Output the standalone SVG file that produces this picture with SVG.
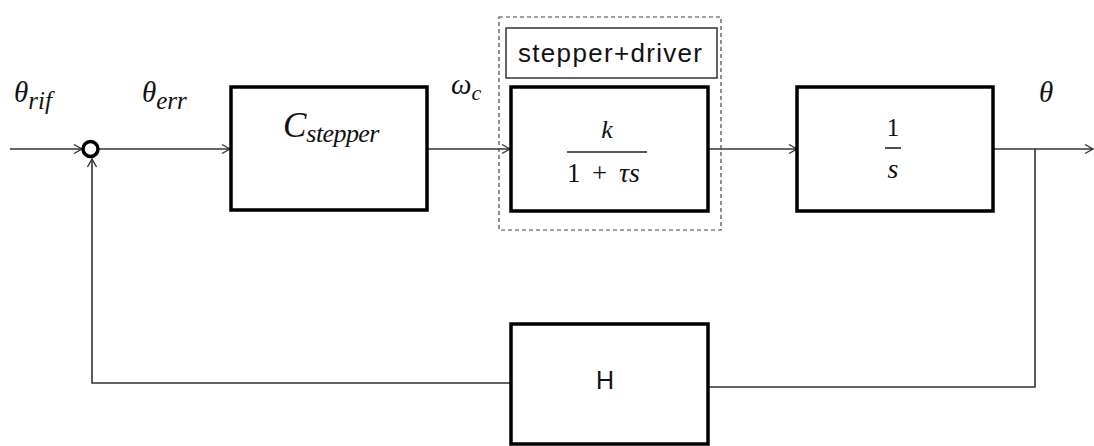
<svg xmlns="http://www.w3.org/2000/svg" width="1094" height="446" viewBox="0 0 1094 446">
<defs>
<marker id="arr" markerUnits="userSpaceOnUse" markerWidth="12" markerHeight="12" refX="10" refY="6" orient="auto">
<path d="M2,1.5 L10,6 L2,10.5" fill="none" stroke="#333" stroke-width="1.4"/>
</marker>
</defs>
<style>
.blk{fill:#fff;stroke:#000;stroke-width:3.5}
.ln{fill:none;stroke:#333;stroke-width:1.6}
.m{font-family:"Liberation Serif",serif;font-style:italic;fill:#111}
.r{font-family:"Liberation Serif",serif;fill:#111}
.s{font-family:"Liberation Sans",sans-serif;fill:#111}
</style>
<rect width="1094" height="446" fill="#fff"/>
<g id="connectors">
<line class="ln" x1="10" y1="149" x2="82" y2="149" marker-end="url(#arr)"/>
<line class="ln" x1="99" y1="149" x2="230" y2="149" marker-end="url(#arr)"/>
<line class="ln" x1="427" y1="149" x2="510" y2="149" marker-end="url(#arr)"/>
<line class="ln" x1="708" y1="149" x2="797" y2="149" marker-end="url(#arr)"/>
<line class="ln" x1="993" y1="149" x2="1093" y2="149" marker-end="url(#arr)"/>
<polyline class="ln" points="1035,149 1035,387 708,387"/>
<polyline class="ln" points="512,383 92,383 92,159" marker-end="url(#arr)"/>
</g>
<g id="sum">
<circle cx="90.5" cy="149" r="7.5" fill="#fff" stroke="#000" stroke-width="3.5"/>
</g>
<g id="labels">
<text class="m" x="14" y="102" font-size="29">θ<tspan font-size="25" dy="7">rif</tspan></text>
<text class="m" x="142" y="102" font-size="29">θ<tspan font-size="25" dy="7">err</tspan></text>
<text class="m" x="451" y="94" font-size="29">ω<tspan font-size="22" dy="6">c</tspan></text>
<text class="m" x="1039" y="102" font-size="29">θ</text>
</g>
<g id="subsystem">
<rect x="499" y="17" width="222" height="213" fill="none" stroke="#444" stroke-width="1.2" stroke-dasharray="4,3"/>
<rect x="506" y="28" width="211" height="50" fill="#fff" stroke="#333" stroke-width="1.5"/>
<text class="s" x="518" y="62" font-size="26" textLength="184">stepper+driver</text>
</g>
<g id="C">
<rect class="blk" x="231" y="87" width="196" height="123"/>
<text class="m" x="283" y="137" font-size="35">C<tspan font-size="26" dy="5" textLength="73">stepper</tspan></text>
</g>
<g id="G">
<rect class="blk" x="511" y="87" width="197" height="124"/>
<text class="m" x="607" y="138" font-size="26" text-anchor="middle">k</text>
<line x1="567" y1="152" x2="647" y2="152" stroke="#222" stroke-width="1.6"/>
<text class="r" x="567" y="182" font-size="27">1</text>
<text class="r" x="592" y="182" font-size="27">+</text>
<text class="m" x="619" y="182" font-size="28">τs</text>
</g>
<g id="I">
<rect class="blk" x="797" y="87" width="196" height="124"/>
<text class="r" x="893" y="136" font-size="25" text-anchor="middle">1</text>
<line x1="885" y1="148" x2="901" y2="148" stroke="#222" stroke-width="1.6"/>
<text class="m" x="893" y="178" font-size="28" text-anchor="middle">s</text>
</g>
<g id="H">
<rect class="blk" x="511" y="324" width="197" height="120"/>
<text class="s" x="605" y="389" font-size="25" text-anchor="middle">H</text>
</g>
</svg>
